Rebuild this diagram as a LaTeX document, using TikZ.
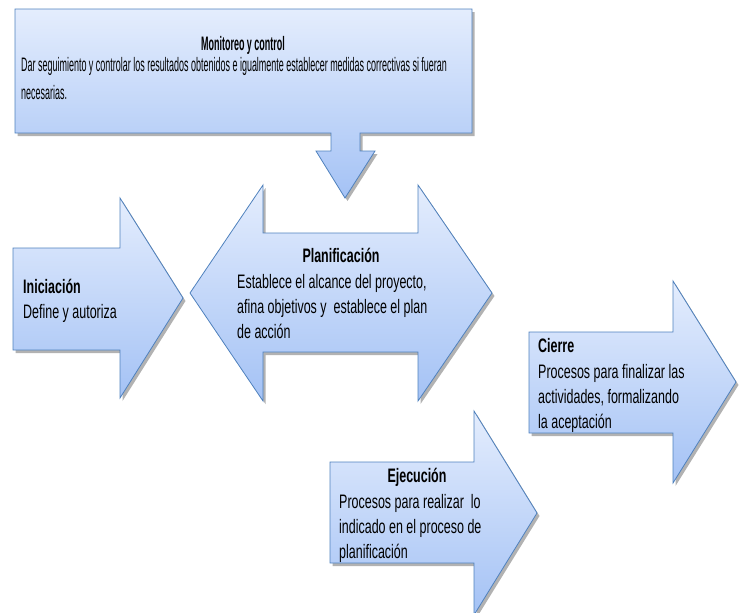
\documentclass[tikz,border=0pt]{standalone}
\usepackage{fontspec}
\setmainfont{Liberation Sans}[FakeStretch=0.64]
\newfontfamily\estrecha{Liberation Sans}[FakeStretch=0.46]
\usepackage{tikz}
\usetikzlibrary{shadows}
\usepackage{xcolor}
\definecolor{borde}{RGB}{79,129,189}
\definecolor{claro}{RGB}{228,237,253}
\definecolor{oscuro}{RGB}{164,194,245}

\begin{document}
\begin{tikzpicture}[x=1pt, y=-1pt,
    blq/.style={draw=borde, line width=0.8pt, line join=miter,
      top color=claro, bottom color=oscuro,
      drop shadow={shadow xshift=2.5pt, shadow yshift=-3pt, fill=black, opacity=0.3}},
    tit/.style={inner sep=0pt, font=\fontsize{19.5}{25}\selectfont\bfseries},
    txt/.style={inner sep=0pt, align=left, font=\fontsize{19.5}{25}\selectfont}]
  \useasboundingbox (0,0) rectangle (742,613);
  % === Monitoreo y control (caja con flecha hacia abajo) ===
  \path[blq] (15,9) -- (472,9) -- (472,133) -- (360,133) -- (360,151) -- (375,151)
    -- (345,198) -- (316,151) -- (331,151) -- (331,133) -- (15,133) -- cycle;
  \node[tit, anchor=base, font=\fontsize{19.5}{28}\selectfont\estrecha\bfseries] (monT) at (243,50) {Monitoreo y control};
  \node[txt, anchor=north west, font=\fontsize{19.5}{28.5}\selectfont\estrecha] (monB) at (21,57)
    {Dar seguimiento y controlar los resultados obtenidos e igualmente establecer medidas correctivas si fueran\\necesarias.};
  % === Iniciacion ===
  \path[blq] (13,248) -- (120,248) -- (120,198) -- (183,298) -- (120,398) -- (120,350) -- (13,350) -- cycle;
  \node[tit, anchor=base west] (iniT) at (23,293) {Iniciación};
  \node[txt, anchor=north west] (iniB) at (23,304) {Define y autoriza};
  % === Planificacion (doble flecha) ===
  \path[blq] (190,293) -- (263,185) -- (263,233) -- (418,233) -- (418,185) -- (492,293)
    -- (418,401) -- (418,352) -- (263,352) -- (263,401) -- cycle;
  \node[tit, anchor=base] (plaT) at (341,262) {Planificación};
  \node[txt, anchor=north west] (plaB) at (237,274)
    {Establece el alcance del proyecto,\\afina objetivos y\ \ establece el plan\\de acción};
  % === Cierre ===
  \path[blq] (529,332) -- (673,332) -- (673,281) -- (736,382) -- (673,483) -- (673,433) -- (529,433) -- cycle;
  \node[tit, anchor=base west] (ciaT) at (538,352) {Cierre};
  \node[txt, anchor=north west] (ciaB) at (538,364)
    {Procesos para finalizar las\\actividades, formalizando\\la aceptación};
  % === Ejecucion ===
  \path[blq] (330,462) -- (474,462) -- (474,411) -- (537,513) -- (474,615) -- (474,563) -- (330,563) -- cycle;
  \node[tit, anchor=base] (ejeT) at (417,482) {Ejecución};
  \node[txt, anchor=north west] (ejeB) at (339,494)
    {Procesos para realizar\ \ lo\\indicado en el proceso de\\planificación};
\end{tikzpicture}
\end{document}
